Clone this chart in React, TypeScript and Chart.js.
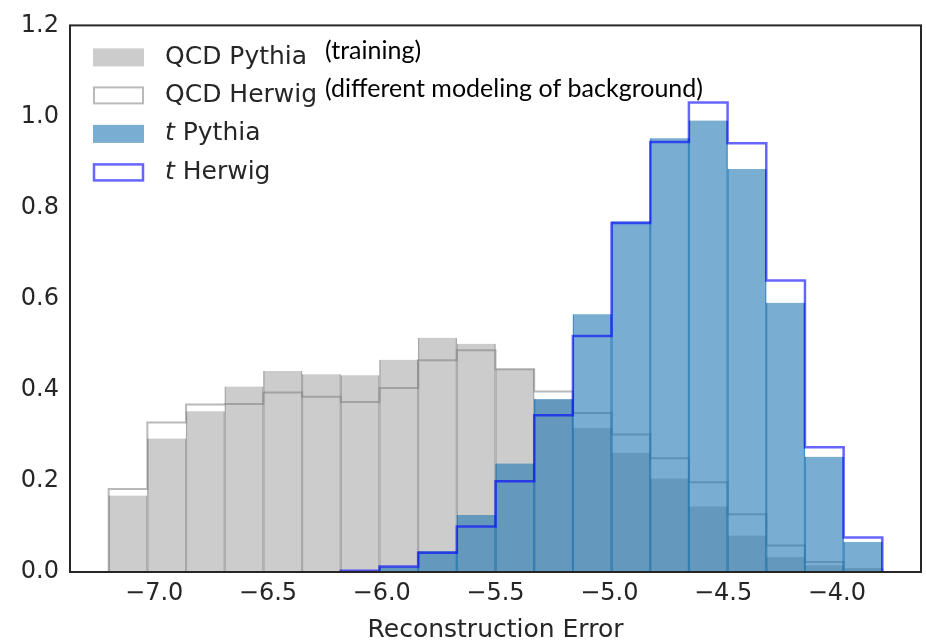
import React, { useEffect, useRef } from 'react';
import { Chart, registerables } from 'chart.js';

Chart.register(...registerables);

// Shared histogram binning (20 bins of width 0.17)
const BIN_EDGES = [
  -7.2, -7.03, -6.86, -6.69, -6.52, -6.35, -6.18, -6.01, -5.84, -5.67, -5.5,
  -5.33, -5.16, -4.99, -4.82, -4.65, -4.48, -4.31, -4.14, -3.97, -3.8,
];

// Normalised bin contents per sample
const QCD_PYTHIA = [
  0.168, 0.293, 0.353, 0.407, 0.441, 0.434, 0.432, 0.466, 0.514, 0.501,
  0.446, 0.378, 0.316, 0.262, 0.205, 0.144, 0.080, 0.033, 0.015, 0.004,
];
const QCD_HERWIG = [
  0.182, 0.328, 0.368, 0.369, 0.394, 0.385, 0.373, 0.404, 0.465, 0.487,
  0.445, 0.396, 0.349, 0.302, 0.250, 0.197, 0.127, 0.058, 0.022, 0.006,
];
const TOP_PYTHIA = [
  0, 0, 0, 0, 0, 0, 0.003, 0.012, 0.046, 0.125,
  0.238, 0.380, 0.566, 0.770, 0.952, 0.991, 0.885, 0.591, 0.253, 0.066,
];
const TOP_HERWIG = [
  0, 0, 0, 0, 0, 0, 0.003, 0.012, 0.042, 0.100,
  0.199, 0.344, 0.518, 0.766, 0.944, 1.031, 0.941, 0.640, 0.274, 0.076,
];

const X_TICKS = [-7.0, -6.5, -6.0, -5.5, -5.0, -4.5, -4.0];
const Y_TICKS = [0, 0.2, 0.4, 0.6, 0.8, 1.0, 1.2];
const X_LABEL = 'Reconstruction Error';
const NOTE_TRAINING = '(training)';
const NOTE_BACKGROUND = '(different modeling of background)';

const GRAY_FILL = 'rgba(128,128,128,0.4)';
const GRAY_EDGE = '#b4b4b4';
const GRAY_STEP = 'rgba(128,128,128,0.55)';
const BLUE_FILL = 'rgba(31,119,180,0.6)';
const BLUE_EDGE = 'rgba(31,119,180,0.75)';
const BLUE_STEP = 'rgba(0,0,255,0.6)';
const TEXT_COLOR = '#262626';
const SANS = '"DejaVu Sans", sans-serif';

type Part = { text: string; italic?: boolean };
type LegendEntry = {
  parts: Part[];
  fill: string | null;
  stroke: string | null;
  strokeWidth: number;
  note?: string;
};

const LEGEND: LegendEntry[] = [
  { parts: [{ text: 'QCD Pythia' }], fill: GRAY_FILL, stroke: null, strokeWidth: 0, note: NOTE_TRAINING },
  { parts: [{ text: 'QCD Herwig' }], fill: null, stroke: GRAY_STEP, strokeWidth: 2, note: NOTE_BACKGROUND },
  { parts: [{ text: 't', italic: true }, { text: ' Pythia' }], fill: BLUE_FILL, stroke: null, strokeWidth: 0 },
  { parts: [{ text: 't', italic: true }, { text: ' Herwig' }], fill: null, stroke: BLUE_STEP, strokeWidth: 2.5 },
];

// bar centres for a filled histogram
function barPoints(values: number[]) {
  return values.map((y, i) => ({ x: (BIN_EDGES[i] + BIN_EDGES[i + 1]) / 2, y }));
}

// outline of a step histogram: rise at the first filled edge, run across each bin, drop at the last edge
function stepPoints(values: number[]) {
  const first = values.findIndex((v) => v > 0);
  let last = values.length - 1;
  while (last > first && values[last] <= 0) last--;
  const pts: { x: number; y: number }[] = [{ x: BIN_EDGES[first], y: 0 }];
  for (let i = first; i <= last; i++) {
    pts.push({ x: BIN_EDGES[i], y: values[i] });
    pts.push({ x: BIN_EDGES[i + 1], y: values[i] });
  }
  pts.push({ x: BIN_EDGES[last + 1], y: 0 });
  return pts;
}

const fmtTick = (v: number) => (v < 0 ? '\u2212' + Math.abs(v).toFixed(1) : v.toFixed(1));

const framePlugin = {
  id: 'frameAndLegend',
  afterDraw(chart: any) {
    const { ctx, chartArea: a } = chart;
    ctx.save();

    // axes frame
    ctx.strokeStyle = TEXT_COLOR;
    ctx.lineWidth = 2;
    ctx.strokeRect(a.left, a.top, a.right - a.left, a.bottom - a.top);

    // legend, upper left inside the axes
    const boxX = a.left + 23;
    const boxW = 51;
    const boxH = 18;
    const textX = a.left + 95;
    const rowY = [32, 70, 108.5, 147];
    LEGEND.forEach((item, i) => {
      const cy = a.top + rowY[i];
      const by = cy - boxH / 2;
      if (item.fill) {
        ctx.fillStyle = item.fill;
        ctx.fillRect(boxX, by, boxW, boxH);
      }
      if (item.stroke) {
        ctx.fillStyle = '#ffffff';
        ctx.fillRect(boxX, by, boxW, boxH);
        ctx.strokeStyle = item.stroke;
        ctx.lineWidth = item.strokeWidth;
        ctx.strokeRect(boxX + 1, by + 1, boxW - 2, boxH - 2);
      }
      let x = textX;
      ctx.textBaseline = 'middle';
      ctx.textAlign = 'left';
      ctx.fillStyle = TEXT_COLOR;
      item.parts.forEach((p) => {
        ctx.font = (p.italic ? 'italic ' : '') + '25px ' + SANS;
        ctx.fillText(p.text, x, cy);
        x += ctx.measureText(p.text).width;
      });
      if (item.note) {
        ctx.fillStyle = '#000000';
        ctx.font = '25px Lato, sans-serif';
        ctx.fillText(item.note, a.left + 255, cy - 6);
      }
    });

    ctx.restore();
  },
};

export default function App() {
  const canvasRef = useRef<HTMLCanvasElement | null>(null);

  useEffect(() => {
    document.body.style.margin = '0';
    const canvas = canvasRef.current;
    if (!canvas) return;

    const barCommon = {
      type: 'bar' as const,
      grouped: false,
      barPercentage: 1,
      categoryPercentage: 1,
      borderWidth: { left: 0.75, right: 0.75, top: 0, bottom: 0 },
    };
    const lineCommon = {
      type: 'line' as const,
      fill: false,
      pointRadius: 0,
      tension: 0,
      backgroundColor: 'transparent',
    };

    const chart = new Chart(canvas, {
      type: 'bar',
      data: {
        datasets: [
          {
            ...barCommon,
            label: 'QCD Pythia',
            data: barPoints(QCD_PYTHIA),
            backgroundColor: GRAY_FILL,
            borderColor: GRAY_EDGE,
            order: 3,
          },
          {
            ...lineCommon,
            label: 'QCD Herwig',
            data: stepPoints(QCD_HERWIG),
            borderColor: GRAY_STEP,
            borderWidth: 2,
            order: 2,
          },
          {
            ...barCommon,
            label: 't Pythia',
            data: barPoints(TOP_PYTHIA),
            backgroundColor: BLUE_FILL,
            borderColor: BLUE_EDGE,
            order: 1,
          },
          {
            ...lineCommon,
            label: 't Herwig',
            data: stepPoints(TOP_HERWIG),
            borderColor: BLUE_STEP,
            borderWidth: 2.5,
            order: 0,
          },
        ] as any,
      },
      options: {
        animation: false,
        responsive: false,
        devicePixelRatio: 1,
        layout: { padding: { left: 0, top: 20, right: 5, bottom: 0 } },
        plugins: {
          legend: { display: false },
          tooltip: { enabled: false },
        },
        scales: {
          x: {
            type: 'linear',
            min: -7.37,
            max: -3.63,
            offset: false,
            grid: { display: false, drawTicks: false, offset: false },
            border: { display: false },
            afterBuildTicks: (s: any) => {
              s.ticks = X_TICKS.map((value) => ({ value }));
            },
            afterFit: (s: any) => {
              s.height = 68;
            },
            ticks: {
              autoSkip: false,
              maxRotation: 0,
              padding: 7,
              color: TEXT_COLOR,
              font: { family: SANS, size: 24 },
              callback: (v: any) => fmtTick(Number(v)),
            },
            title: {
              display: true,
              text: X_LABEL,
              color: TEXT_COLOR,
              font: { family: SANS, size: 25, lineHeight: 0.8 },
              padding: { top: 0, bottom: 0 },
            },
          },
          y: {
            type: 'linear',
            min: 0,
            max: 1.2,
            grid: { display: false, drawTicks: false },
            border: { display: false },
            afterBuildTicks: (s: any) => {
              s.ticks = Y_TICKS.map((value) => ({ value }));
            },
            afterFit: (s: any) => {
              s.width = 70;
            },
            ticks: {
              padding: 11,
              color: TEXT_COLOR,
              font: { family: SANS, size: 24 },
              callback: (v: any) => fmtTick(Number(v)),
            },
          },
        },
      } as any,
      plugins: [framePlugin],
    });

    return () => chart.destroy();
  }, []);

  return (
    <div style={{ width: 926, height: 640, position: 'relative', background: '#ffffff' }}>
      <canvas ref={canvasRef} width={926} height={640} style={{ display: 'block' }} />
    </div>
  );
}
